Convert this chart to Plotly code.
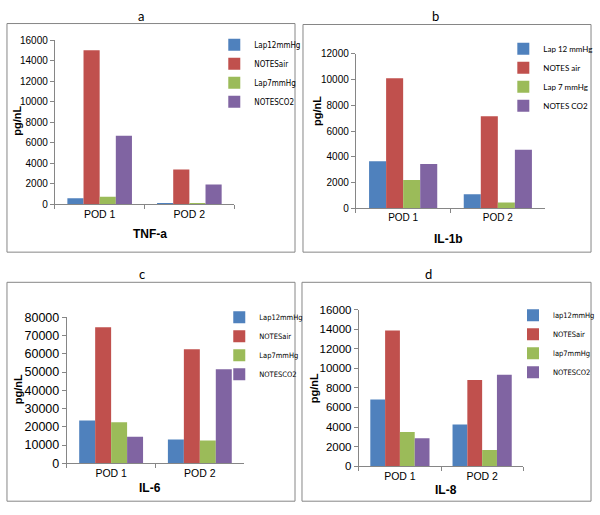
import plotly.graph_objects as go

W, H = 600, 515

categories = ["POD 1", "POD 2"]

# Panel a: TNF-a
tnf_names = ["Lap12mmHg", "NOTESair", "Lap7mmHg", "NOTESCO2"]
tnf_lap12 = [600, 80]
tnf_notes_air = [15000, 3400]
tnf_lap7 = [750, 80]
tnf_notes_co2 = [6700, 1950]

# Panel b: IL-1b
il1b_names = ["Lap 12 mmHg", "NOTES air", "Lap 7 mmHg", "NOTES CO2"]
il1b_lap12 = [3650, 1100]
il1b_notes_air = [10100, 7150]
il1b_lap7 = [2200, 450]
il1b_notes_co2 = [3450, 4550]

# Panel c: IL-6
il6_names = ["Lap12mmHg", "NOTESair", "Lap7mmHg", "NOTESCO2"]
il6_lap12 = [23500, 13000]
il6_notes_air = [74500, 62500]
il6_lap7 = [22500, 12500]
il6_notes_co2 = [14500, 51500]

# Panel d: IL-8
il8_names = ["lap12mmHg", "NOTESair", "lap7mmHg", "NOTESCO2"]
il8_lap12 = [6800, 4250]
il8_notes_air = [13850, 8800]
il8_lap7 = [3500, 1650]
il8_notes_co2 = [2850, 9350]

colors = ["#4F81BD", "#C0504D", "#9BBB59", "#8064A2"]


def px(x):
    return x / W


def py(y):
    return 1 - y / H


NARROW = "Liberation Sans Narrow, DejaVu Sans Condensed, Arial Narrow, sans-serif"
ARIAL = "Liberation Sans, Arial, sans-serif"
CAL = "Lato, Open Sans, sans-serif"

panels = [
    dict(letter="a", xt="TNF-a", names=tnf_names,
         series=[tnf_lap12, tnf_notes_air, tnf_lap7, tnf_notes_co2],
         x0=55, x1=235, yb=203, yt=34, ymax=16000, dtick=2000, tfs=10, cfs=10.5,
         box=(7, 17, 296, 252), title_xy=(141, 9),
         ytitle_xy=(17, 117), xtitle_xy=(151, 233),
         leg_xy=(215, 24), leg_font=NARROW, leg_fs=8),
    dict(letter="b", xt="IL-1b", names=il1b_names,
         series=[il1b_lap12, il1b_notes_air, il1b_lap7, il1b_notes_co2],
         x0=357, x1=547, yb=207, yt=48, ymax=12000, dtick=2000, tfs=10, cfs=10,
         box=(304, 18, 593, 252), title_xy=(437, 9),
         ytitle_xy=(318, 107), xtitle_xy=(450, 238),
         leg_xy=(505, 28), leg_font=CAL, leg_fs=8),
    dict(letter="c", xt="IL-6", names=il6_names,
         series=[il6_lap12, il6_notes_air, il6_lap7, il6_notes_co2],
         x0=67, x1=245, yb=469, yt=319, ymax=80000, dtick=10000, tfs=12.5, cfs=10.5,
         box=(7, 283, 296, 508), title_xy=(142, 274),
         ytitle_xy=(18, 393), xtitle_xy=(150, 494),
         leg_xy=(220, 304), leg_font=NARROW, leg_fs=7.5),
    dict(letter="d", xt="IL-8", names=il8_names,
         series=[il8_lap12, il8_notes_air, il8_lap7, il8_notes_co2],
         x0=360, x1=525, yb=472, yt=311, ymax=16000, dtick=2000, tfs=11.5, cfs=10.5,
         box=(303, 283, 593, 508), title_xy=(430, 274),
         ytitle_xy=(315, 392), xtitle_xy=(447, 497),
         leg_xy=(515, 302), leg_font=NARROW, leg_fs=7.5),
]

fig = go.Figure()
layout = dict(
    width=W, height=H, autosize=False,
    margin=dict(l=0, r=0, t=0, b=0),
    paper_bgcolor="white", plot_bgcolor="white",
    barmode="group", bargap=0.28, bargroupgap=0,
    font=dict(family=ARIAL, color="#000000"),
)
shapes = []
annotations = []

for i, p in enumerate(panels):
    n = i + 1
    xa = "x" if n == 1 else f"x{n}"
    ya = "y" if n == 1 else f"y{n}"
    leg = "legend" if n == 1 else f"legend{n}"
    for name, vals, col in zip(p["names"], p["series"], colors):
        fig.add_trace(go.Bar(
            x=categories, y=vals, name=name, xaxis=xa, yaxis=ya,
            marker=dict(color=col, line=dict(width=0)),
            legend=leg, showlegend=True,
        ))
    xkey = "xaxis" if n == 1 else f"xaxis{n}"
    ykey = "yaxis" if n == 1 else f"yaxis{n}"
    layout[xkey] = dict(
        domain=[px(p["x0"]), px(p["x1"])], anchor=ya,
        type="category", range=[-0.5, 1.5],
        showline=True, linecolor="#868686", linewidth=1,
        ticks="outside", tickson="boundaries", ticklen=4, tickcolor="#868686",
        showgrid=False, zeroline=False,
        tickfont=dict(family=ARIAL, size=p["cfs"], color="#000"),
    )
    layout[ykey] = dict(
        domain=[py(p["yb"]), py(p["yt"])], anchor=xa,
        range=[0, p["ymax"]], dtick=p["dtick"], tick0=0, tickformat="d",
        showline=True, linecolor="#868686", linewidth=1,
        ticks="outside", ticklen=4, tickcolor="#868686",
        showgrid=False, zeroline=False,
        tickfont=dict(family=ARIAL, size=p["tfs"], color="#000"),
    )
    layout[leg] = dict(
        x=px(p["leg_xy"][0]), y=py(p["leg_xy"][1]), xanchor="left", yanchor="top",
        xref="paper", yref="paper",
        font=dict(family=p["leg_font"], size=p["leg_fs"], color="#000"),
        bgcolor="rgba(0,0,0,0)", borderwidth=0, itemwidth=30,
        tracegroupgap=0,
    )
    bx0, by0, bx1, by1 = p["box"]
    shapes.append(dict(type="rect", xref="paper", yref="paper",
                       x0=px(bx0), x1=px(bx1), y0=py(by1), y1=py(by0),
                       line=dict(color="#868686", width=1), layer="below"))
    annotations.append(dict(text=p["letter"], x=px(p["title_xy"][0]), y=py(p["title_xy"][1]),
                            xref="paper", yref="paper", showarrow=False,
                            xanchor="center", yanchor="middle",
                            font=dict(family=CAL, size=13, color="#000")))
    annotations.append(dict(text="<b>pg/nL</b>", x=px(p["ytitle_xy"][0]), y=py(p["ytitle_xy"][1]),
                            xref="paper", yref="paper", showarrow=False, textangle=-90,
                            xanchor="center", yanchor="middle",
                            font=dict(family=ARIAL, size=11, color="#000")))
    annotations.append(dict(text=f"<b>{p['xt']}</b>", x=px(p["xtitle_xy"][0]), y=py(p["xtitle_xy"][1]),
                            xref="paper", yref="paper", showarrow=False,
                            xanchor="center", yanchor="middle",
                            font=dict(family=ARIAL, size=12, color="#000")))

layout["shapes"] = shapes
layout["annotations"] = annotations
fig.update_layout(**layout)
fig.write_html("out.html", config=dict(displayModeBar=False),
               post_script="document.body.style.margin='0px';document.body.style.padding='0px';")
